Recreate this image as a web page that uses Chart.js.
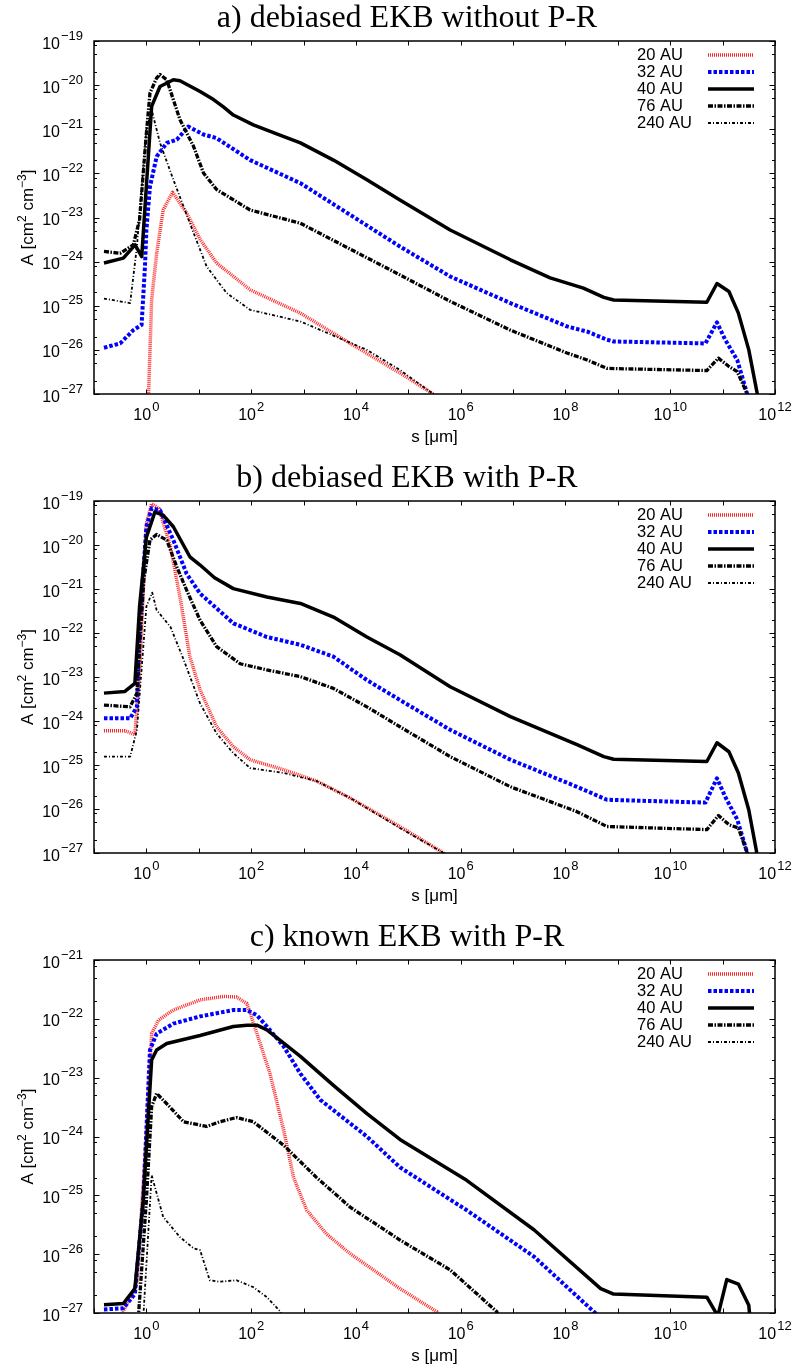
<!DOCTYPE html>
<html>
<head>
<meta charset="utf-8">
<script src="https://cdn.jsdelivr.net/npm/chart.js@4.4.1/dist/chart.umd.min.js"></script>
<style>
  html, body { margin: 0; padding: 0; background: #fff; overflow: hidden; }
  #wrap { position: relative; width: 794px; height: 1369px; }
  canvas { position: absolute; left: 0; }
</style>
</head>
<body>
<div id="wrap">
  <canvas id="pa" width="794" height="459" style="top:0px"></canvas>
  <canvas id="pb" width="794" height="459" style="top:459px"></canvas>
  <canvas id="pc" width="794" height="450" style="top:919px"></canvas>
</div>
<script>
// series labels
const labels = ['20 AU', '32 AU', '40 AU', '76 AU', '240 AU'];

// x decades (log10 s) and tick labels
const xDecades = [-1, 0, 1, 2, 3, 4, 5, 6, 7, 8, 9, 10, 11, 12];
const xLabelled = [0, 2, 4, 6, 8, 10, 12];

// panel a) debiased EKB without P-R : [s (um), A (cm^2 cm^-3)]
const a20 = [[1.08, 5e-28], [1.26, 1.35e-25], [1.57, 1.55e-24], [2.09, 1.48e-23], [3.16, 3.7e-23], [5.89, 1.26e-23],
  [10.6, 3.2e-24], [21.9, 9.3e-25], [95.5, 2.3e-25], [871, 6.8e-26], [7760, 1.4e-26], [69200, 3.0e-27], [3.0e5, 1e-27], [3.5e5, 7e-28]];
const a32 = [[0.155, 1.12e-26], [0.316, 1.4e-26], [0.562, 2.8e-26], [0.81, 3.7e-26], [0.94, 7.8e-25], [1.0, 5.2e-24],
  [1.17, 5.0e-23], [1.57, 2.4e-22], [2.45, 4.9e-22], [3.8, 5.8e-22], [6.31, 1.15e-21], [12.3, 7.6e-22], [21.9, 6.3e-22],
  [95.5, 2.0e-22], [871, 6.0e-23], [69200, 2.2e-24], [6.3e5, 4.6e-25], [8.9e6, 1.15e-25], [1.07e8, 3.4e-26], [2.6e8, 2.6e-26],
  [6.2e8, 1.7e-26], [8.3e8, 1.55e-26], [4.7e10, 1.4e-26], [7.8e10, 4.2e-26], [1.12e11, 1.7e-26], [1.9e11, 5.9e-27],
  [2.95e11, 1.0e-27], [3.2e11, 6e-28]];
const a40 = [[0.155, 9.3e-25], [0.363, 1.2e-24], [0.61, 2.4e-24], [0.815, 1.3e-24], [1.26, 3.3e-21], [1.82, 9.3e-21],
  [3.27, 1.32e-20], [4.37, 1.26e-20], [10.6, 7.2e-21], [19.1, 4.7e-21], [29.5, 3.2e-21], [45.7, 2.1e-21], [110, 1.26e-21],
  [316, 7.8e-22], [871, 4.9e-22], [3720, 2.0e-22], [16200, 7.2e-23], [69200, 2.5e-23], [6.3e5, 5.2e-24], [8.9e6, 1.1e-24],
  [5.1e7, 4.3e-25], [2.2e8, 2.5e-25], [5.4e8, 1.55e-25], [8.3e8, 1.35e-25], [5.0e10, 1.2e-25], [7.8e10, 3.2e-25],
  [1.32e11, 2.1e-25], [2.0e11, 6.8e-26], [3.16e11, 1.0e-26], [4.6e11, 1.0e-27], [5.0e11, 5.6e-28]];
const a76 = [[0.155, 1.7e-24], [0.316, 1.55e-24], [0.562, 2.4e-24], [0.741, 8.9e-24], [1.0, 8.1e-22], [1.17, 6.6e-21],
  [1.57, 1.45e-20], [1.82, 1.74e-20], [2.45, 1.32e-20], [4.37, 1.66e-21], [7.94, 4.1e-22], [12.3, 1.02e-22], [21.9, 4.3e-23],
  [95.5, 1.48e-23], [871, 7.4e-24], [69200, 5.0e-25], [6.3e5, 1.26e-25], [8.9e6, 2.8e-26], [1.07e8, 8.5e-27], [2.6e8, 5.9e-27],
  [6.2e8, 3.8e-27], [5.0e10, 3.4e-27], [8.3e10, 6.5e-27], [1.32e11, 4.2e-27], [1.9e11, 3.2e-27], [2.95e11, 1e-27], [3.2e11, 6e-28]];
const a240 = [[0.155, 1.45e-25], [0.49, 1.15e-25], [0.66, 2.2e-24], [1.0, 9.8e-22], [1.26, 2.75e-21], [1.82, 4.9e-22],
  [3.27, 7.2e-23], [7.94, 4.5e-24], [14.1, 7.8e-25], [33.9, 1.95e-25], [95.5, 8.1e-26], [871, 4.4e-26], [16200, 1.0e-26],
  [69200, 3.5e-27], [3.0e5, 1e-27], [3.5e5, 7e-28]];

// panel b) debiased EKB with P-R
const b20 = [[0.155, 6.0e-25], [0.389, 6.0e-25], [0.603, 4.9e-25], [0.741, 1.2e-23], [1.0, 3.1e-20], [1.26, 8.7e-20],
  [1.74, 6.8e-20], [2.88, 9.1e-21], [4.37, 6.6e-22], [6.76, 2.9e-23], [10.6, 5.1e-24], [21.9, 7.4e-25], [45.7, 2.6e-25],
  [95.5, 1.32e-25], [417, 7.8e-26], [1780, 4.3e-26], [7760, 1.78e-26], [69200, 4.0e-27], [4.7e5, 1e-27], [5.2e5, 7e-28]];
const b32 = [[0.155, 1.15e-24], [0.49, 1.15e-24], [0.66, 2.1e-24], [0.741, 1.38e-22], [1.0, 2.6e-20], [1.26, 6.8e-20],
  [1.82, 6.2e-20], [3.27, 1.29e-20], [5.89, 2.2e-21], [10.6, 7.9e-22], [45.7, 1.66e-22], [200, 8.1e-23], [871, 5.4e-23],
  [3720, 2.9e-23], [16200, 8.5e-24], [69200, 3.0e-24], [6.3e5, 6.3e-25], [8.9e6, 1.32e-25], [1.66e8, 3.2e-26],
  [6.2e8, 1.62e-26], [4.7e10, 1.4e-26], [7.8e10, 5.0e-26], [1.12e11, 1.9e-26], [1.9e11, 5.8e-27], [2.95e11, 1e-27], [3.2e11, 6e-28]];
const b40 = [[0.155, 4.3e-24], [0.389, 4.7e-24], [0.603, 7.2e-24], [0.741, 4.0e-22], [1.0, 1.5e-20], [1.45, 5.6e-20],
  [2.09, 4.8e-20], [3.27, 2.6e-20], [6.76, 5.4e-21], [10.6, 3.5e-21], [20, 1.8e-21], [45.7, 1.02e-21], [200, 6.6e-22],
  [871, 4.7e-22], [3720, 2.3e-22], [16200, 8.1e-23], [69200, 3.2e-23], [6.3e5, 6.0e-24], [8.9e6, 1.26e-24], [1.66e8, 2.9e-25],
  [5.4e8, 1.55e-25], [8.3e8, 1.35e-25], [5.0e10, 1.2e-25], [7.8e10, 3.2e-25], [1.32e11, 2.0e-25], [2.0e11, 6.6e-26],
  [3.16e11, 9.5e-27], [4.5e11, 1e-27], [5.0e11, 5.6e-28]];
const b76 = [[0.155, 2.3e-24], [0.49, 2.1e-24], [0.66, 4.3e-24], [0.891, 1.58e-21], [1.17, 1.29e-20], [1.57, 1.74e-20],
  [2.45, 1.29e-20], [3.8, 3.2e-21], [5.89, 9.3e-22], [10.6, 1.95e-22], [21.9, 4.9e-23], [61.7, 2.0e-23], [200, 1.45e-23],
  [871, 1.02e-23], [3720, 5.5e-24], [16200, 2.1e-24], [69200, 7.4e-25], [6.3e5, 1.55e-25], [8.9e6, 3.2e-26], [1.66e8, 8.7e-27],
  [6.2e8, 4.0e-27], [5.0e10, 3.4e-27], [8.3e10, 7.1e-27], [1.32e11, 4.4e-27], [2.0e11, 3.7e-27], [2.95e11, 1e-27], [3.2e11, 6e-28]];
const b240 = [[0.155, 1.55e-25], [0.49, 1.55e-25], [0.66, 6.3e-25], [1.0, 4.0e-22], [1.29, 8.3e-22], [1.57, 3.3e-22],
  [2.88, 1.38e-22], [5.13, 2.5e-23], [10.6, 2.5e-24], [21.9, 5.2e-25], [45.7, 1.86e-25], [95.5, 8.5e-26], [417, 6.6e-26],
  [1780, 4.3e-26], [7760, 1.78e-26], [69200, 3.7e-27], [4.7e5, 1e-27], [5.2e5, 7e-28]];

// panel c) known EKB with P-R
const c20 = [[0.33, 9e-28], [0.66, 3.2e-27], [1.0, 1.12e-24], [1.26, 5.6e-23], [1.7, 9.5e-23], [3.27, 1.41e-22],
  [10.6, 2.1e-22], [29.5, 2.4e-22], [52.5, 2.35e-22], [83.2, 1.82e-22], [129, 5.6e-23], [229, 1.17e-23], [417, 1.29e-24],
  [646, 2.0e-25], [1150, 5.6e-26], [2750, 2.2e-26], [7760, 1.02e-26], [69200, 2.6e-27], [3.5e5, 1.05e-27], [4e5, 8e-28]];
const c32 = [[0.155, 1.15e-27], [0.363, 1.2e-27], [0.603, 2.1e-27], [0.871, 8.3e-26], [1.17, 2.95e-23], [1.57, 5.6e-23],
  [3.27, 8.3e-23], [10.6, 1.1e-22], [45.7, 1.41e-22], [83.2, 1.41e-22], [129, 1.15e-22], [200, 7.4e-23], [417, 3.4e-23],
  [871, 1.17e-23], [2090, 4.2e-24], [3720, 2.8e-24], [16200, 1.0e-24], [69200, 3.0e-25], [1.3e6, 5.6e-26], [2.5e7, 9.1e-27],
  [3.7e8, 1e-27], [4.2e8, 8e-28]];
const c40 = [[0.155, 1.38e-27], [0.363, 1.45e-27], [0.603, 2.6e-27], [0.871, 8.3e-26], [1.26, 2.0e-23], [1.57, 2.95e-23],
  [2.45, 3.8e-23], [10.6, 5.2e-23], [45.7, 7.4e-23], [83.2, 7.8e-23], [129, 7.8e-23], [200, 6.5e-23], [871, 2.3e-23],
  [3720, 7.4e-24], [16200, 2.45e-24], [69200, 8.9e-25], [1.3e6, 1.8e-25], [2.5e7, 2.6e-26], [4.7e8, 2.6e-27], [8.3e8, 2.1e-27],
  [5.0e10, 1.86e-27], [8.1e10, 8.9e-28], [1.2e11, 3.7e-27], [2.0e11, 3.1e-27], [3.16e11, 1.35e-27], [3.3e11, 8.9e-28]];
const c76 = [[0.7, 8e-28], [1.0, 8.3e-26], [1.26, 3.2e-24], [1.57, 5.4e-24], [2.45, 3.6e-24], [5.13, 1.78e-24],
  [14.1, 1.48e-24], [25.1, 1.78e-24], [52.5, 2.1e-24], [110, 1.78e-24], [417, 7.1e-25], [1780, 2.0e-25], [7760, 6.3e-26],
  [69200, 1.74e-26], [6.3e5, 5.4e-27], [4.9e6, 1.05e-27], [5.5e6, 8e-28]];
const c240 = [[0.87, 8e-28], [1.26, 2.2e-25], [2.09, 4.3e-26], [4.37, 1.95e-26], [7.94, 1.26e-26], [10.6, 1.17e-26],
  [16.2, 3.6e-27], [25.1, 3.4e-27], [52.5, 3.6e-27], [110, 2.75e-27], [200, 1.86e-27], [363, 1.05e-27], [400, 8.5e-28]];

const SANS = '"Liberation Sans", Arial, sans-serif';
const SERIF = '"Liberation Serif", "Times New Roman", serif';

const styles = [
  { color: 'rgb(255,40,40)', width: 3.5, dash: [1, 1] },
  { color: 'rgb(0,0,255)', width: 4, dash: [3.5, 2] },
  { color: '#000', width: 3.5, dash: [] },
  { color: '#000', width: 3.3, dash: [5, 1.5, 1.5, 1.5] },
  { color: '#000', width: 1.8, dash: [3, 2, 1, 2] }
];

function drawPow(ctx, exp, x, y, align) {
  ctx.font = '16px ' + SANS;
  const wb = ctx.measureText('10').width;
  ctx.font = '13px ' + SANS;
  const we = ctx.measureText(exp).width;
  const w = wb + 1 + we;
  const x0 = align === 'right' ? x - w : x - w / 2;
  ctx.textAlign = 'left';
  ctx.textBaseline = 'alphabetic';
  ctx.font = '16px ' + SANS;
  ctx.fillText('10', x0, y);
  ctx.font = '13px ' + SANS;
  ctx.fillText(exp, x0 + wb + 1, y - 9);
}

const decor = {
  id: 'decor',
  afterDraw(chart) {
    const ctx = chart.ctx;
    const ca = chart.chartArea;
    const xs = chart.scales.x, ys = chart.scales.y;
    const o = chart.options.plugins.decor;
    ctx.save();
    ctx.fillStyle = '#000';
    ctx.strokeStyle = '#000';

    // title
    ctx.font = '32px ' + SERIF;
    ctx.textAlign = 'center';
    ctx.textBaseline = 'alphabetic';
    ctx.fillText(o.title, 407, ca.top - 14.5);

    // frame
    ctx.lineWidth = 1.5;
    ctx.setLineDash([]);
    ctx.strokeRect(ca.left, ca.top, ca.right - ca.left, ca.bottom - ca.top);

    // x ticks
    ctx.lineWidth = 1;
    ctx.beginPath();
    xDecades.forEach(d => {
      const px = Math.round(xs.getPixelForValue(Math.pow(10, d))) + 0.5;
      ctx.moveTo(px, ca.bottom); ctx.lineTo(px, ca.bottom - 4.5);
      ctx.moveTo(px, ca.top); ctx.lineTo(px, ca.top + 4.5);
    });
    // y ticks
    for (let d = o.yMinExp; d <= o.yMaxExp; d++) {
      const py = Math.round(ys.getPixelForValue(Math.pow(10, d))) + 0.5;
      ctx.moveTo(ca.left, py); ctx.lineTo(ca.left + 5.5, py);
      ctx.moveTo(ca.right, py); ctx.lineTo(ca.right - 5.5, py);
      if (d < o.yMaxExp) {
        [2, 5, 8].forEach(m => {
          const pm = Math.round(ys.getPixelForValue(m * Math.pow(10, d))) + 0.5;
          ctx.moveTo(ca.left, pm); ctx.lineTo(ca.left + 3, pm);
          ctx.moveTo(ca.right, pm); ctx.lineTo(ca.right - 3, pm);
        });
      }
    }
    ctx.stroke();

    // tick labels
    xLabelled.forEach(d => {
      const px = xs.getPixelForValue(Math.pow(10, d));
      drawPow(ctx, String(d).replace('-', '\u2212'), px, ca.bottom + 25.5, 'center');
    });
    for (let d = o.yMinExp; d <= o.yMaxExp; d++) {
      const py = ys.getPixelForValue(Math.pow(10, d));
      drawPow(ctx, '\u2212' + String(-d), ca.left - 11, py + 7.5, 'right');
    }

    // x axis title
    ctx.font = '17px ' + SANS;
    ctx.textAlign = 'center';
    ctx.fillText('s [\u03bcm]', (ca.left + ca.right) / 2, ca.bottom + 48);

    // y axis title, rotated
    ctx.save();
    ctx.translate(33, (ca.top + ca.bottom) / 2);
    ctx.rotate(-Math.PI / 2);
    const parts = [['A [cm', 0], ['2', 1], [' cm', 0], ['\u22123', 1], [']', 0]];
    let total = 0;
    parts.forEach(p => {
      ctx.font = (p[1] ? '12px ' : '17px ') + SANS;
      total += ctx.measureText(p[0]).width;
    });
    let cx = -total / 2;
    ctx.textAlign = 'left';
    parts.forEach(p => {
      ctx.font = (p[1] ? '12px ' : '17px ') + SANS;
      ctx.fillText(p[0], cx, p[1] ? -7.5 : 0);
      cx += ctx.measureText(p[0]).width;
    });
    ctx.restore();

    // legend
    ctx.font = '16.5px ' + SANS;
    ctx.textAlign = 'left';
    ctx.textBaseline = 'middle';
    labels.forEach((lab, i) => {
      const yy = ca.top + 14 + 17 * i;
      ctx.fillText(lab, 637, yy);
      const s = styles[i];
      ctx.beginPath();
      ctx.lineWidth = s.width;
      ctx.strokeStyle = s.color;
      ctx.setLineDash(s.dash);
      ctx.lineCap = 'butt';
      ctx.moveTo(708, yy);
      ctx.lineTo(754, yy);
      ctx.stroke();
    });
    ctx.restore();
  }
};

function makeChart(id, title, yMinExp, yMaxExp, series, pad) {
  const datasets = series.map((pts, i) => ({
    label: labels[i],
    data: pts.map(p => ({ x: p[0], y: p[1] })),
    borderColor: styles[i].color,
    borderWidth: styles[i].width,
    borderDash: styles[i].dash,
    borderCapStyle: 'butt',
    borderJoinStyle: 'round',
    pointRadius: 0,
    tension: 0,
    fill: false,
    order: series.length - i
  }));
  return new Chart(document.getElementById(id), {
    type: 'line',
    data: { datasets: datasets },
    plugins: [decor],
    options: {
      responsive: false,
      animation: false,
      layout: { padding: pad },
      scales: {
        x: { type: 'logarithmic', min: 0.1, max: 1e12, display: false },
        y: { type: 'logarithmic', min: Math.pow(10, yMinExp), max: Math.pow(10, yMaxExp), display: false }
      },
      plugins: {
        legend: { display: false },
        tooltip: { enabled: false },
        decor: { title: title, yMinExp: yMinExp, yMaxExp: yMaxExp }
      }
    }
  });
}

makeChart('pa', 'a) debiased EKB without P-R', -27, -19, [a20, a32, a40, a76, a240],
  { left: 94, right: 19, top: 41, bottom: 65 });
makeChart('pb', 'b) debiased EKB with P-R', -27, -19, [b20, b32, b40, b76, b240],
  { left: 94, right: 19, top: 42, bottom: 65 });
makeChart('pc', 'c) known EKB with P-R', -27, -21, [c20, c32, c40, c76, c240],
  { left: 94, right: 19, top: 41, bottom: 56 });
</script>
</body>
</html>
